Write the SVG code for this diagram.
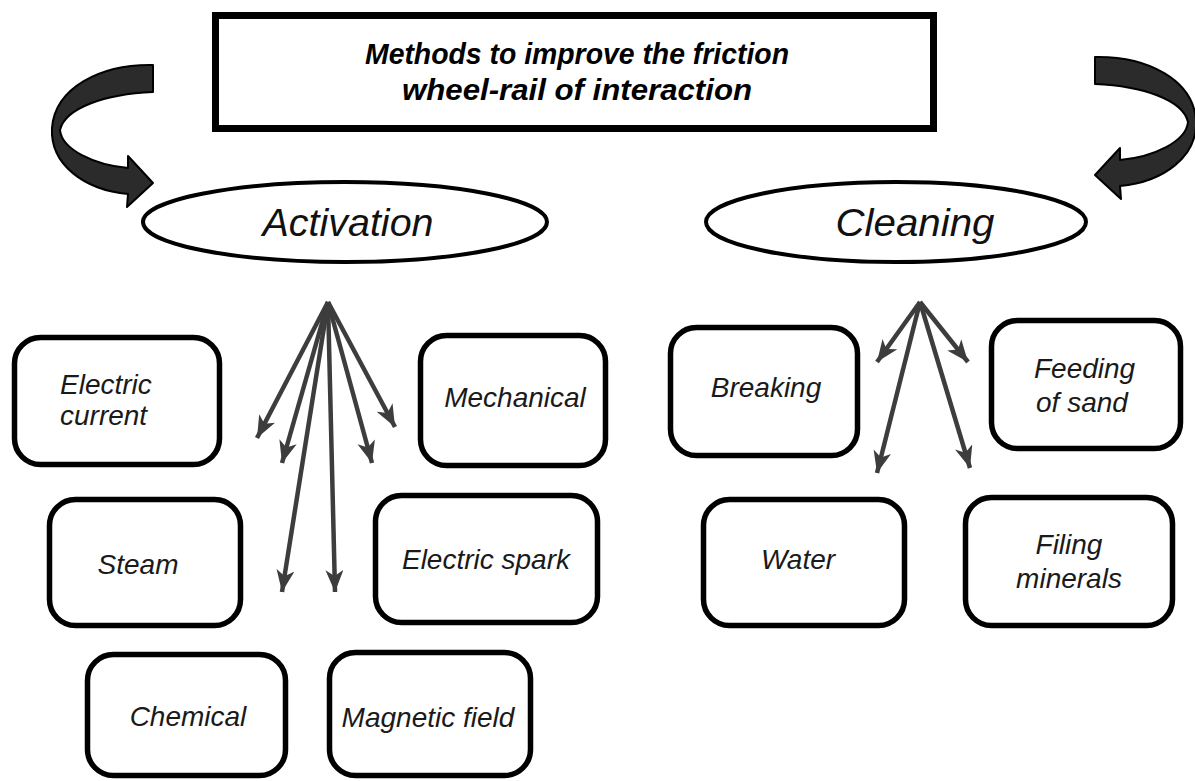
<svg xmlns="http://www.w3.org/2000/svg" width="1195" height="781" viewBox="0 0 1195 781">
<style>
.box{fill:#fff;stroke:#000;stroke-width:5.5}
.lbl{font-family:"Liberation Sans",Arial,sans-serif;font-style:italic;font-size:28px;fill:#1a1a1a}
.big{font-family:"Liberation Sans",Arial,sans-serif;font-style:italic;font-size:38px;fill:#111}
.title{font-family:"Liberation Sans",Arial,sans-serif;font-style:italic;font-weight:bold;font-size:29px;fill:#000}
.fan{stroke:#3d3d3d;stroke-width:4.5;fill:none;marker-end:url(#ah)}
.curl{fill:#2b2b2b;stroke:#000;stroke-width:2;stroke-linejoin:round}
</style>
<defs>
<marker id="ah" markerUnits="userSpaceOnUse" markerWidth="24" markerHeight="20" refX="22" refY="9" orient="auto">
<path d="M0,0 L22,9 L0,18 L6,9 Z" fill="#3d3d3d"/>
</marker>
<path id="curlShape" d="M153,65 C100,64 55,88 52,128 C50,165 85,190 128,194 L127,207 L153,183 L128,156 L128,168 C95,165 62,150 60,130 C65,108 105,94 153,92 Z"/>
</defs>
<rect width="1195" height="781" fill="#fff"/>

<g id="title">
<rect x="215.5" y="15.5" width="718" height="113" fill="#fff" stroke="#000" stroke-width="7"/>
<text class="title" x="577" y="64" text-anchor="middle" textLength="424" lengthAdjust="spacingAndGlyphs">Methods to improve the friction</text>
<text class="title" x="577" y="100" text-anchor="middle" textLength="350" lengthAdjust="spacingAndGlyphs">wheel-rail of interaction</text>
</g>

<g id="curl-left">
<use href="#curlShape" class="curl"/>
</g>
<g id="curl-right">
<use href="#curlShape" class="curl" transform="translate(1248,-8) scale(-1,1)"/>
</g>

<g id="activation">
<ellipse cx="345" cy="222" rx="202" ry="40" fill="#fff" stroke="#000" stroke-width="4"/>
<text class="big" x="348" y="236" text-anchor="middle" textLength="171" lengthAdjust="spacingAndGlyphs">Activation</text>
</g>
<g id="cleaning">
<ellipse cx="896" cy="222" rx="190" ry="40" fill="#fff" stroke="#000" stroke-width="4"/>
<text class="big" x="915" y="236" text-anchor="middle" textLength="159" lengthAdjust="spacingAndGlyphs">Cleaning</text>
</g>

<g id="connectors">
<line class="fan" x1="328" y1="302" x2="257" y2="438"/>
<line class="fan" x1="328" y1="302" x2="282" y2="463"/>
<line class="fan" x1="328" y1="302" x2="282" y2="592"/>
<line class="fan" x1="328" y1="302" x2="335" y2="592"/>
<line class="fan" x1="328" y1="302" x2="372" y2="463"/>
<line class="fan" x1="328" y1="302" x2="395" y2="427"/>
<line class="fan" x1="920" y1="302" x2="877" y2="362"/>
<line class="fan" x1="920" y1="302" x2="968" y2="362"/>
<line class="fan" x1="920" y1="302" x2="877" y2="473"/>
<line class="fan" x1="920" y1="302" x2="970" y2="468"/>
</g>

<g id="electric-current">
<rect class="box" x="14.5" y="337.5" width="205" height="127" rx="26"/>
<text class="lbl" x="60" y="394">Electric</text>
<text class="lbl" x="60" y="425">current</text>
</g>
<g id="mechanical">
<rect class="box" x="420.5" y="335.5" width="185" height="130" rx="26"/>
<text class="lbl" x="515" y="407" text-anchor="middle">Mechanical</text>
</g>
<g id="steam">
<rect class="box" x="49.5" y="499.5" width="191" height="126" rx="26"/>
<text class="lbl" x="138" y="574" text-anchor="middle">Steam</text>
</g>
<g id="electric-spark">
<rect class="box" x="375.5" y="495.5" width="222" height="127" rx="26"/>
<text class="lbl" x="486" y="569" text-anchor="middle">Electric spark</text>
</g>
<g id="chemical">
<rect class="box" x="87.5" y="654.5" width="198" height="121" rx="26"/>
<text class="lbl" x="188" y="726" text-anchor="middle">Chemical</text>
</g>
<g id="magnetic-field">
<rect class="box" x="329.5" y="652.5" width="201" height="123" rx="26"/>
<text class="lbl" x="428" y="727" text-anchor="middle">Magnetic field</text>
</g>
<g id="breaking">
<rect class="box" x="670.5" y="327.5" width="187" height="128" rx="26"/>
<text class="lbl" x="766" y="397" text-anchor="middle">Breaking</text>
</g>
<g id="feeding-of-sand">
<rect class="box" x="991.5" y="320.5" width="189" height="128" rx="26"/>
<text class="lbl" x="1034" y="378">Feeding</text>
<text class="lbl" x="1036" y="412">of sand</text>
</g>
<g id="water">
<rect class="box" x="703.5" y="499.5" width="201" height="126" rx="26"/>
<text class="lbl" x="798" y="569" text-anchor="middle">Water</text>
</g>
<g id="filing-minerals">
<rect class="box" x="965.5" y="497.5" width="207" height="128" rx="26"/>
<text class="lbl" x="1069" y="554" text-anchor="middle">Filing</text>
<text class="lbl" x="1069" y="588" text-anchor="middle">minerals</text>
</g>
</svg>
